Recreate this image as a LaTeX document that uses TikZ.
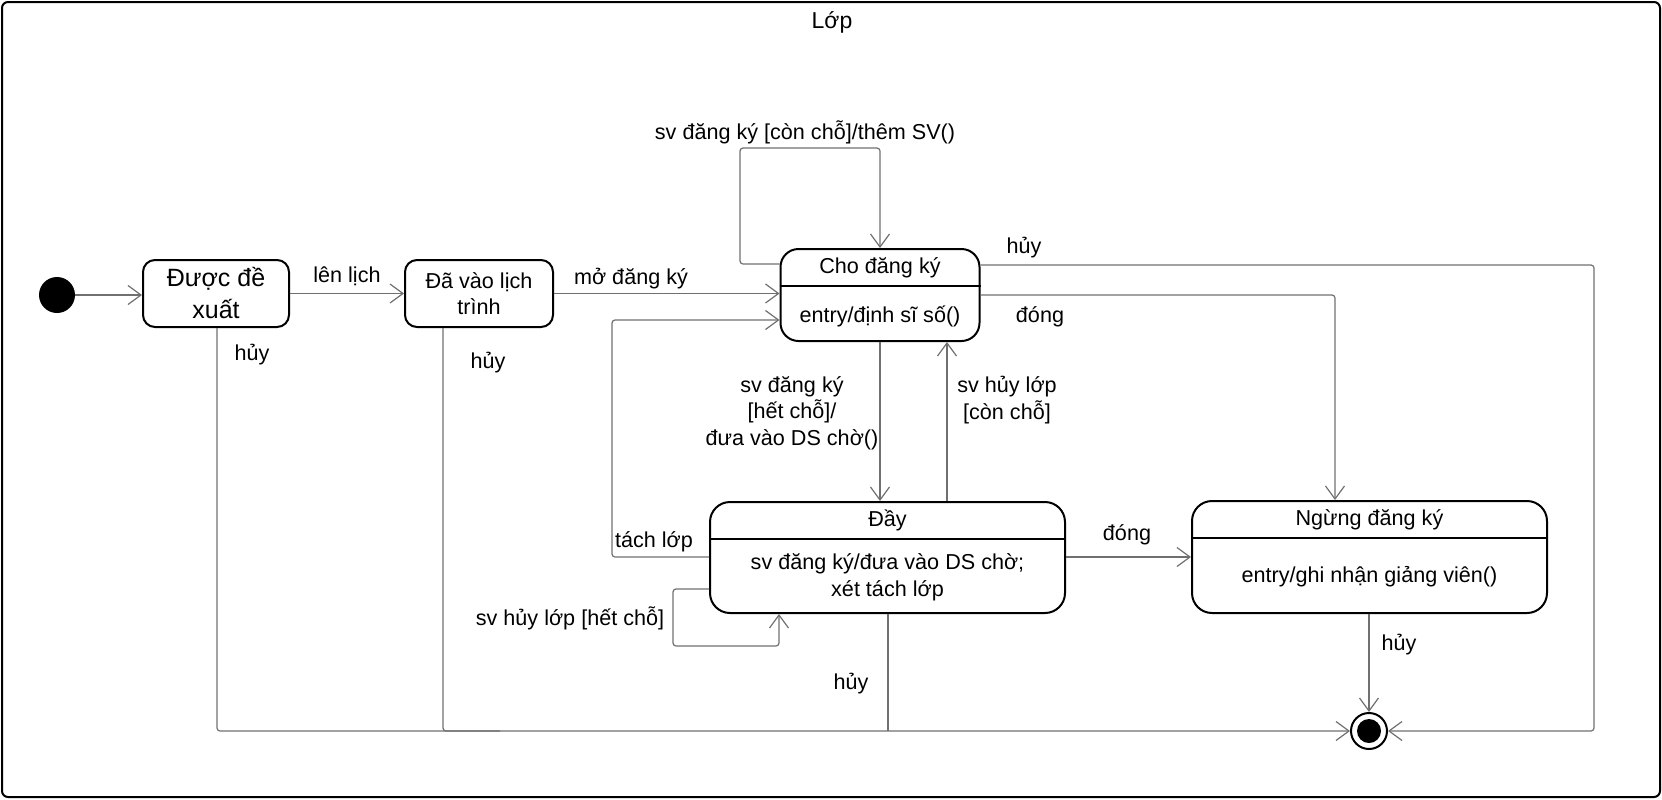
\documentclass[tikz,border=0pt]{standalone}
\usepackage{fontspec}
\setmainfont{Liberation Sans}
\usetikzlibrary{arrows.meta}
\definecolor{lineGray}{RGB}{112,112,112}
\tikzset{
  stateBox/.style={draw=black, line width=1pt, rounded corners=7pt, inner sep=0pt, align=center, font=\fontsize{10.8}{13}\selectfont},
  trans/.style={draw=lineGray, line width=0.6pt, rounded corners=1.5pt, -{Straight Barb[length=6.5pt,width=9.5pt]}},
  link/.style={draw=lineGray, line width=0.6pt, rounded corners=1.5pt},
  lbl/.style={inner sep=0pt, align=center, font=\fontsize{10.8}{13.3}\selectfont},
}
\begin{document}
\begin{tikzpicture}[x=0.5pt,y=0.5pt,yscale=-1,xscale=1]
\useasboundingbox (0,0) rectangle (1662,799);

%Frame
\draw [line width=1pt, rounded corners=3pt] (2,2) rectangle (1660,797);
\node [lbl, font=\fontsize{11.5}{14}\selectfont] (title) at (832,22) {Lớp};

%States
\node [circle, fill=black, minimum size=18pt, inner sep=0pt] (init) at (57,295) {};
\node [stateBox, minimum width=73pt, minimum height=33.5pt, rounded corners=6pt, font=\fontsize{12.5}{16}\selectfont] (duoc) at (216,293.5) {Được đề\\xuất};
\node [stateBox, minimum width=74pt, minimum height=33.5pt, rounded corners=6pt] (da) at (479,293.5) {Đã vào lịch\\trình};

\node [stateBox, minimum width=99.5pt, minimum height=46pt, rounded corners=9pt] (cho) at (880,295) {};
\draw [line width=1pt] (cho.west |- 0,286) -- (cho.east |- 0,286);
\node [lbl] (choName) at (880,268) {Cho đăng ký};
\node [lbl] (choDo) at (880,316) {entry/định sĩ số()};

\node [stateBox, minimum width=177.5pt, minimum height=55.5pt, rounded corners=10pt] (day) at (887.5,557.5) {};
\draw [line width=1pt] (day.west |- 0,539) -- (day.east |- 0,539);
\node [lbl] (dayName) at (887.5,520) {Đầy};
\node [lbl] (dayDo) at (887.5,577) {sv đăng ký/đưa vào DS chờ;\\xét tách lớp};

\node [stateBox, minimum width=177.5pt, minimum height=56pt, rounded corners=10pt] (ngung) at (1369.5,557) {};
\draw [line width=1pt] (ngung.west |- 0,538) -- (ngung.east |- 0,538);
\node [lbl] (ngungName) at (1369.5,520) {Ngừng đăng ký};
\node [lbl] (ngungDo) at (1369.5,577) {entry/ghi nhận giảng viên()};

\node [circle, draw=black, line width=1pt, minimum size=18pt, inner sep=0pt] (final) at (1369,731) {};
\node [circle, fill=black, minimum size=12pt, inner sep=0pt] (finalDot) at (final) {};

%Transitions
\draw [trans] (init) -- (init -| duoc.west);
\draw [trans] (duoc) -- (da);
\draw [trans] (da) -- (da -| cho.west);
\draw [trans] (cho.west |- 0,264) -- (740,264) -- (740,148) -- (cho.north |- 0,148) -- (cho.north);
\draw [trans] (cho.east |- 0,265) -- (1594,265) -- (1594,731) -- (final);
\draw [trans] (cho.east) -- (1335,295) -- (ngung.north -| 1335,0);
\draw [trans] (cho.south) -- (cho.south |- day.north);
\draw [trans] (day.north -| 947,0) -- (cho.south -| 947,0);
\draw [trans] (day.west |- 0,557) -- (612,557) -- (612,320) -- (cho.west |- 0,320);
\draw [trans] (day.west |- 0,589) -- (673,589) -- (673,646) -- (779,646) -- (day.south -| 779,0);
\draw [trans] (day.east |- 0,557) -- (ngung.west |- 0,557);
\draw [trans] (ngung.south -| final) -- (final);
\draw [trans] (duoc.south -| 217,0) -- (217,731) -- (final);
\draw [link] (da.south -| 443,0) -- (443,731) -- (500,731);
\draw [link] (day.south -| 888,0) -- (888,731);

%Labels
\node [lbl] (lenLich) at (347,276) {lên lịch};
\node [lbl] (moDK) at (631,279) {mở đăng ký};
\node [lbl] (themSV) at (805,132) {sv đăng ký [còn chỗ]/thêm SV()};
\node [lbl] (huyCho) at (1024,248) {hủy};
\node [lbl] (dongCho) at (1040,317) {đóng};
\node [lbl] (hetCho) at (792,413) {sv đăng ký\\{}[hết chỗ]/\\đưa vào DS chờ()};
\node [lbl] (huyLop) at (1007,400) {sv hủy lớp\\{}[còn chỗ]};
\node [lbl] (tachLop) at (654,542) {tách lớp};
\node [lbl] (huyLopHet) at (570,618) {sv hủy lớp [hết chỗ]};
\node [lbl] (dongDay) at (1127,535) {đóng};
\node [lbl] (huyNgung) at (1399,645) {hủy};
\node [lbl] (huyDuoc) at (252,355) {hủy};
\node [lbl] (huyDa) at (488,363) {hủy};
\node [lbl] (huyDay) at (851,684) {hủy};

\end{tikzpicture}
\end{document}
